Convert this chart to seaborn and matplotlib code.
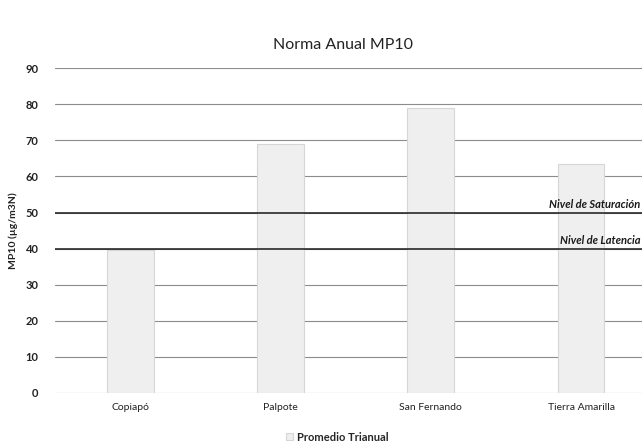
import matplotlib
matplotlib.use("Agg")
import matplotlib.pyplot as plt
import seaborn as sns
import pandas as pd

estaciones = ["Copiapó", "Palpote", "San Fernando", "Tierra Amarilla"]
promedio_trianual = [39.5, 69, 79, 63.5]
nivel_saturacion = 50
nivel_latencia = 40
yticks = [0, 10, 20, 30, 40, 50, 60, 70, 80, 90]

sns.set_theme(style="white")
plt.rcParams["font.family"] = ["Lato", "DejaVu Sans"]

df = pd.DataFrame({"estacion": estaciones, "valor": promedio_trianual})

fig = plt.figure(figsize=(6.42, 4.43), dpi=100)
ax = fig.add_axes([0.086, 0.113, 0.936, 0.733])

for y in yticks:
    ax.axhline(y, color="#8c8c8c", lw=0.8, zorder=0)

sns.barplot(data=df, x="estacion", y="valor", ax=ax, color="#efefef",
            edgecolor="#d6d6d6", linewidth=0.8, width=0.31, saturation=1,
            label="Promedio Trianual", zorder=2)

ax.axhline(nivel_saturacion, color="#2a2a2a", lw=1.2, zorder=3)
ax.axhline(nivel_latencia, color="#2a2a2a", lw=1.2, zorder=3)

# etiquetas de los niveles, pegadas al borde derecho de la figura
tr = matplotlib.transforms.blended_transform_factory(fig.transFigure, ax.transData)
ax.text(0.997, nivel_saturacion + 0.8, "Nivel de Saturación", transform=tr,
        ha="right", va="bottom", fontsize=8, fontweight="bold", fontstyle="italic", color="#1a1a1a")
ax.text(0.997, nivel_latencia + 0.8, "Nivel de Latencia", transform=tr,
        ha="right", va="bottom", fontsize=8, fontweight="bold", fontstyle="italic", color="#1a1a1a")

ax.set_ylim(0, 90)
ax.set_yticks(yticks)
ax.set_xlim(-0.5, 3.5)
ax.tick_params(axis="both", length=0, colors="#222222")
ax.tick_params(axis="x", pad=7, labelsize=7.5)
ax.tick_params(axis="y", pad=12, labelsize=8)
for lbl in ax.get_yticklabels():
    lbl.set_fontweight("bold")
ax.set_xlabel("")
ax.set_ylabel("MP10 (µg/m3N)", fontsize=7.5, fontweight="bold", color="#222222", labelpad=5)
sns.despine(ax=ax, left=True, bottom=True, top=True, right=True)

fig.suptitle("Norma Anual MP10", x=0.535, y=0.915, fontsize=11.5, color="#222222")
leg = ax.legend(loc="upper center", bbox_to_anchor=(0.47, -0.088), frameon=False,
                fontsize=8, handlelength=0.6, handleheight=0.6, handletextpad=0.4)
for t in leg.get_texts():
    t.set_fontweight("bold")

fig.savefig("out.png", dpi=100)
